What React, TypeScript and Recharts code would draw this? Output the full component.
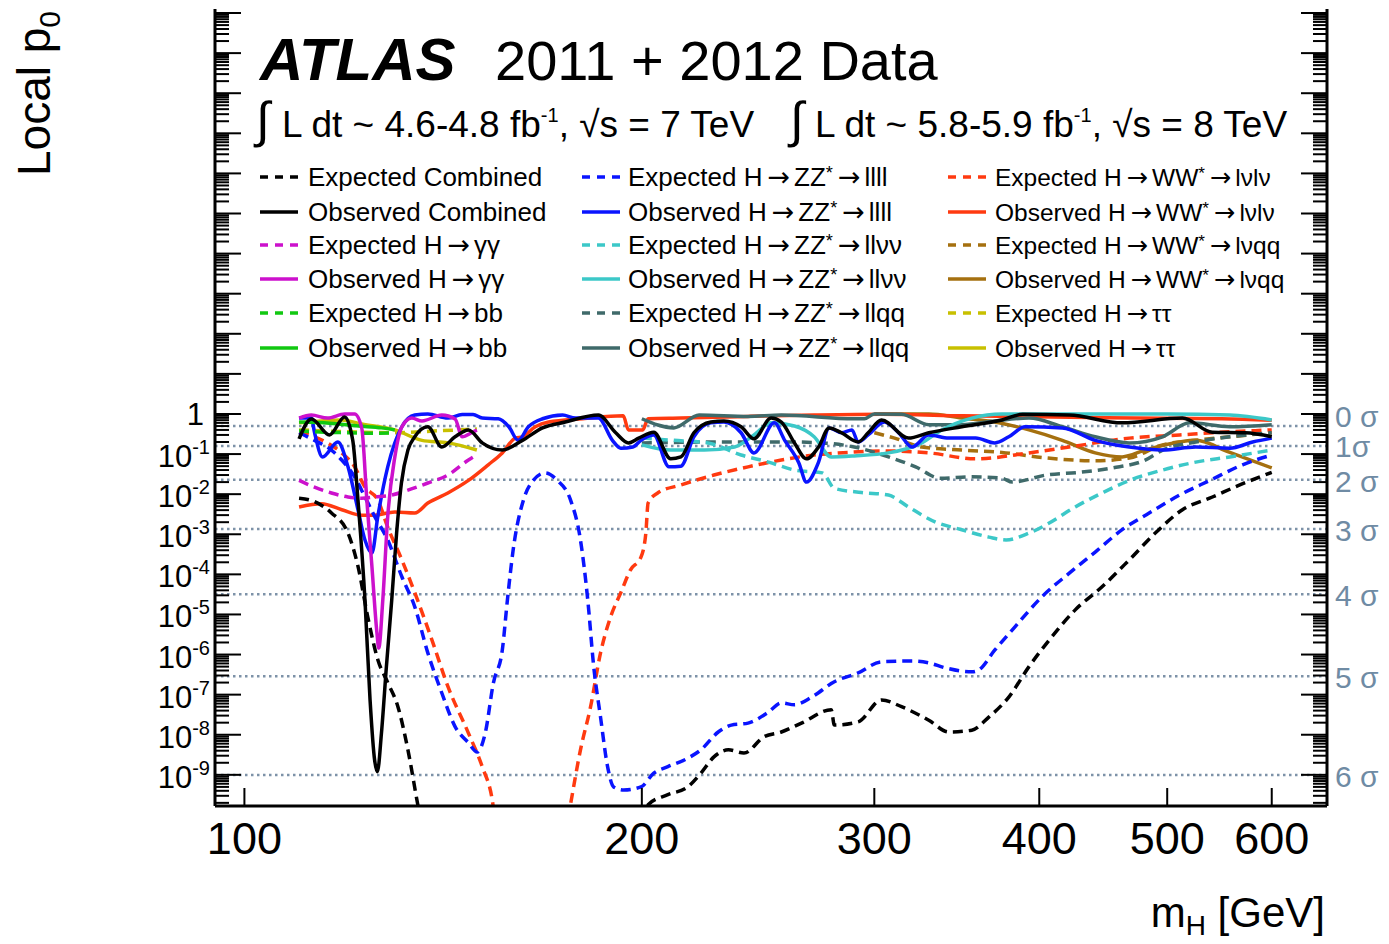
import React from "react";
import { LineChart, Line, XAxis, YAxis, ReferenceLine } from "recharts";

const FONT = '"Liberation Sans", Arial, Helvetica, sans-serif';
const ARROW_FONT = '"DejaVu Sans", sans-serif';

// local p0 vs m_H [GeV] as [mass, p0]
const expCombined = [
  [110, 7.9e-3], [113, 6.5e-3], [116.4, 3.4e-3], [119.8, 1.07e-3], [121.9, 1.6e-4],
  [124, 8.7e-6], [126.2, 7.4e-7], [128.4, 2e-7], [130.7, 5e-8], [133, 4.2e-9],
  [135.4, 1.6e-10], [140, 1e-12], [195, 1e-12], [202.2, 1.8e-10], [209.3, 3.2e-10],
  [216.7, 5e-10], [221.7, 1.1e-9], [226.8, 2.8e-9], [232.6, 4.2e-9], [239, 3.5e-9],
  [247.5, 8.9e-9], [255.1, 1.17e-8], [264.2, 1.95e-8], [278.3, 4.2e-8], [279.8, 1.74e-8],
  [291.7, 2.1e-8], [303.8, 7.4e-8], [314.6, 5e-8], [329.9, 2.3e-8], [341.6, 1.17e-8],
  [355.6, 1.3e-8], [366.3, 2.75e-8], [379.3, 8.7e-8], [392.9, 5e-7], [407, 2.3e-6],
  [425.9, 1.3e-5], [446.3, 4.9e-5], [468, 2.3e-4], [489.7, 1.07e-3], [513.5, 4.1e-3],
  [541, 8.5e-3], [567.5, 0.017], [600, 0.035],
];
const obsCombined = [
  [110, 0.24], [112.4, 0.75], [116, 0.3], [119.1, 0.84], [120.8, 0.22], [121.9, 7.2e-3],
  [123.4, 2.3e-5], [124.5, 7.4e-8], [125.5, 2.3e-9], [126.1, 1.2e-9], [127, 1.1e-8],
  [128.1, 5e-7], [129.3, 2.3e-5], [130.4, 1.07e-3], [131.5, 0.019], [133, 0.126],
  [134.6, 0.27], [137.7, 0.48], [141.1, 0.15], [144.4, 0.27], [147.8, 0.4], [151.4, 0.19],
  [156.8, 0.126], [162.4, 0.22], [168.2, 0.45], [175, 0.63], [185.4, 0.94], [191.1, 0.34],
  [195.4, 0.19], [198.9, 0.25], [204.2, 0.35], [210.3, 0.076], [214.1, 0.085], [219, 0.34],
  [225.6, 0.63], [230.8, 0.67], [237.8, 0.48], [243.2, 0.24], [250.6, 0.79], [255.1, 0.63],
  [261, 0.19], [266.5, 0.076], [272.2, 0.15], [277.3, 0.45], [283.3, 0.34], [291.7, 0.2],
  [296.8, 0.34], [303.8, 0.71], [318.4, 0.25], [329.9, 0.34], [349.4, 0.48], [374.8, 0.71],
  [388.6, 0.98], [421.5, 0.94], [462.2, 0.6], [513.5, 0.79], [541, 0.35], [573, 0.34],
  [600, 0.27],
];
const expGamma = [
  [110, 0.022], [113, 0.015], [116.4, 0.0107], [119.8, 8.5e-3], [122.7, 7.9e-3],
  [125.5, 8.5e-3], [129.3, 9.5e-3], [133, 0.0126], [137.7, 0.019], [142.6, 0.03],
  [147.8, 0.071], [150, 0.095],
];
const obsGamma = [
  [110, 0.79], [112.4, 0.94], [115.6, 0.79], [119.1, 1.0], [121.2, 1.0], [122.7, 0.45],
  [123.8, 7.2e-3], [124.9, 1.6e-4], [126, 3.5e-6], [126.4, 1.45e-6], [127.3, 2.3e-5],
  [128.4, 2.8e-3], [130, 0.085], [131.6, 0.48], [133.9, 0.79], [136.3, 0.67],
  [141.1, 0.94], [144.4, 0.75], [146.2, 0.27], [148.8, 0.35], [150, 0.4],
];
const expBB = [[110, 0.38], [115, 0.35], [120, 0.34], [125, 0.33], [130, 0.34]];
const obsBB = [[110, 0.63], [116, 0.59], [122, 0.5], [127, 0.45], [130, 0.4]];
const expZZ4l = [
  [110, 0.34], [113, 0.22], [116.4, 0.126], [118.5, 0.071], [121.2, 0.027], [123.4, 8.5e-3],
  [125.5, 2.8e-3], [128.4, 7.2e-4], [131.6, 8.7e-5], [134.6, 1.55e-5], [137.7, 1.1e-6],
  [141.1, 1.1e-7], [144.4, 1.6e-8], [147.8, 6.3e-9], [150.1, 3.7e-9], [152.2, 1.1e-8],
  [154.4, 2e-7], [156.8, 1.3e-6], [158.2, 2.3e-5], [159.8, 4.1e-4], [162.7, 7.2e-3],
  [165.5, 0.022], [169, 0.034], [172.6, 0.022], [176.6, 7.2e-3], [179.7, 7.2e-4],
  [182, 2.3e-5], [183.9, 5e-7], [186.1, 2.75e-8], [188.4, 1.6e-9], [190.4, 5e-10],
  [193.8, 4.2e-10], [199.7, 5e-10], [204.2, 1.1e-9], [209.3, 1.6e-9], [216.7, 2.6e-9],
  [221.7, 4.2e-9], [228.5, 1.17e-8], [233.8, 1.74e-8], [240.7, 1.95e-8], [249.5, 3.7e-8],
  [255.1, 6.2e-8], [261, 5.6e-8], [269, 8.7e-8], [279.8, 2.1e-7], [291.7, 3.5e-7],
  [303.8, 6.6e-7], [320.4, 6.9e-7], [329.9, 6.2e-7], [339.2, 4.7e-7], [355.6, 3.7e-7],
  [359.8, 4.1e-7], [370.2, 1.3e-6], [383.4, 4.9e-6], [402, 2.8e-5], [421.5, 1.07e-4],
  [441, 3.6e-4], [462.2, 1.3e-3], [484.5, 3.4e-3], [510.9, 9.5e-3], [538.5, 0.022],
  [570.2, 0.054], [600, 0.095],
];
const obsZZ4l = [
  [110, 0.79], [112.4, 0.79], [113, 0.35], [114.6, 0.085], [117.7, 0.2], [119.8, 0.048],
  [121.9, 4.1e-3], [123.4, 7.2e-4], [124.9, 3.4e-4], [126.2, 2.8e-3], [128.4, 0.048],
  [131.6, 0.48], [134.6, 0.94], [137.7, 1.0], [142.6, 0.79], [146.2, 0.97], [149, 0.97],
  [151.4, 0.79], [155.7, 0.76], [158.6, 0.48], [161.2, 0.22], [164.1, 0.48], [168.2, 0.76],
  [174.2, 0.94], [178.1, 0.79], [185.4, 0.79], [190, 0.22], [192.8, 0.14], [196.9, 0.15],
  [199.7, 0.22], [204.2, 0.3], [209.7, 0.048], [214.1, 0.05], [219, 0.27], [225.6, 0.6],
  [230.8, 0.63], [237.8, 0.34], [243.2, 0.107], [252, 0.6], [256.6, 0.22], [263, 0.06],
  [266.5, 0.02], [272.2, 0.063], [277.3, 0.45], [283.3, 0.34], [288.5, 0.4], [291.7, 0.2],
  [296.8, 0.3], [305.3, 0.63], [313, 0.34], [320.4, 0.15], [329.9, 0.3], [341.6, 0.25],
  [358, 0.25], [370.2, 0.19], [379.3, 0.27], [390.2, 0.48], [416.4, 0.45], [441, 0.22],
  [468, 0.15], [496, 0.126], [525.5, 0.15], [557.7, 0.14], [580.3, 0.2], [600, 0.25],
];
const expZZllvv = [
  [200, 0.25], [211.5, 0.22], [224.4, 0.19], [237.8, 0.095], [249.5, 0.063], [261, 0.04],
  [274, 0.034], [279.8, 0.014], [293.4, 0.011], [307.5, 9.5e-3], [318.4, 4.8e-3],
  [334, 2e-3], [349.4, 1.3e-3], [366.3, 8.5e-4], [377.5, 7.2e-4], [392.9, 1.07e-3],
  [407, 1.9e-3], [425.9, 4.8e-3], [446.3, 0.0107], [468, 0.022], [496, 0.04],
  [525.5, 0.063], [557.7, 0.085], [600, 0.126],
];
const obsZZllvv = [
  [200, 0.17], [210.3, 0.126], [223, 0.126], [235.1, 0.15], [243.2, 0.3], [250.6, 0.6],
  [261, 0.5], [270.1, 0.27], [278.3, 0.085], [289.7, 0.09], [307.5, 0.107], [325.9, 0.19],
  [337.5, 0.4], [355.6, 0.79], [374.8, 1.0], [450, 1.0], [500, 1.0], [557.7, 0.94],
  [600, 0.71],
];
const expZZllqq = [
  [200, 0.19], [230, 0.2], [260, 0.2], [274, 0.19], [289.7, 0.15], [307.5, 0.085],
  [322.4, 0.048], [336.6, 0.025], [355.6, 0.027], [374.8, 0.025], [381.6, 0.02],
  [404.8, 0.03], [429, 0.035], [454.2, 0.045], [481.2, 0.071], [496, 0.126],
  [525.5, 0.2], [557.7, 0.27], [600, 0.34],
];
const obsZZllqq = [
  [200, 0.76], [211.5, 0.45], [221, 0.94], [240.7, 0.87], [255.1, 0.94], [289.7, 0.76],
  [294.9, 0.76], [300, 1.0], [314.6, 0.98], [329.9, 0.54], [349.4, 0.54], [370.2, 0.67],
  [392.9, 0.79], [416.4, 0.48], [441, 0.27], [468, 0.19], [496, 0.27], [519.9, 0.6],
  [557.7, 0.48], [600, 0.54],
];
const expWWlvlv = [
  [110, 0.35], [113, 0.27], [115.6, 0.19], [118.5, 0.107], [121.2, 0.048], [123.4, 0.015],
  [126.2, 7.2e-3], [128.4, 1.5e-3], [131.6, 2.3e-4], [134.6, 3.5e-5], [138.7, 2.3e-6],
  [142.6, 1.6e-7], [147.8, 1.1e-8], [151.4, 1.6e-9], [154.1, 2.3e-10], [157, 1e-12],
  [172, 1e-12], [176.6, 1.8e-10], [179.7, 4.2e-9], [182.9, 5e-8], [186.1, 1.1e-6],
  [189.4, 8.7e-6], [192.8, 3.5e-5], [196.1, 1.3e-4], [199.7, 2.7e-4], [201.4, 1.07e-3],
  [202.2, 6e-3], [205.6, 0.0107], [214.1, 0.017], [226.8, 0.03], [240.7, 0.048],
  [255.1, 0.071], [270.1, 0.095], [286.7, 0.11], [303.8, 0.12], [329.9, 0.107],
  [358, 0.076], [392.9, 0.107], [421.5, 0.15], [468, 0.25], [510.9, 0.3], [541, 0.34],
  [600, 0.4],
];
const obsWWlvlv = [
  [110, 4.8e-3], [114.4, 5.8e-3], [118.5, 4.1e-3], [122.7, 3e-3], [125.5, 3e-3],
  [130, 3.6e-3], [134.6, 3.4e-3], [137.7, 6e-3], [142.6, 0.0107], [147.8, 0.022],
  [153, 0.054], [156.8, 0.107], [160.4, 0.25], [162.4, 0.27], [166.1, 0.48], [170, 0.63],
  [180.4, 0.76], [193.6, 0.9], [195.4, 0.4], [200.3, 0.4], [202.2, 0.76], [214.1, 0.79],
  [240.7, 0.87], [270.1, 0.94], [303.8, 0.98], [350, 0.9], [450, 0.8], [550, 0.76],
  [600, 0.7],
];
const expWWlvqq = [
  [300, 0.34], [310.8, 0.25], [325.9, 0.15], [349.4, 0.126], [374.8, 0.11], [404.8, 0.08],
  [441, 0.068], [468, 0.08], [496, 0.17], [525.5, 0.22], [557.7, 0.27], [600, 0.34],
];
const obsWWlvqq = [
  [300, 1.0], [329.9, 1.0], [349.4, 0.79], [370.2, 0.63], [392.9, 0.4], [416.4, 0.22],
  [441, 0.107], [462.2, 0.085], [481.2, 0.126], [510.9, 0.2], [525.5, 0.22],
  [557.7, 0.11], [600, 0.045],
];
const expTauTau = [[110, 0.4], [120, 0.36], [130, 0.34], [140, 0.38], [145, 0.4], [150, 0.42]];
const obsTauTau = [
  [110, 0.6], [118.5, 0.71], [122.7, 0.56], [130, 0.4], [136.3, 0.22], [142.6, 0.19],
  [150, 0.126],
];

const massTicks = [100, 200, 300, 400, 500, 600];
const labeledExponents = [0, -1, -2, -3, -4, -5, -6, -7, -8, -9];
const sigmaP = [0.5, 0.1587, 0.02275, 1.35e-3, 3.17e-5, 2.87e-7, 9.87e-10];
const sigmaLabels = ["0 σ", "1σ", "2 σ", "3 σ", "4 σ", "5 σ", "6 σ"];
const sigmaShift = [-10, 0, 1, 1, 1, 1, 1];

const series = [
  { name: "Expected Combined", data: expCombined, color: "#000000", dashed: true },
  { name: "Observed Combined", data: obsCombined, color: "#000000", dashed: false },
  { name: "Expected H → γγ", data: expGamma, color: "#cc11cc", dashed: true },
  { name: "Observed H → γγ", data: obsGamma, color: "#cc11cc", dashed: false },
  { name: "Expected H → bb", data: expBB, color: "#11c811", dashed: true },
  { name: "Observed H → bb", data: obsBB, color: "#11c811", dashed: false },
  { name: "Expected H → ZZ* → llll", data: expZZ4l, color: "#0a14ff", dashed: true },
  { name: "Observed H → ZZ* → llll", data: obsZZ4l, color: "#0a14ff", dashed: false },
  { name: "Expected H → ZZ* → llνν", data: expZZllvv, color: "#3cc8c8", dashed: true },
  { name: "Observed H → ZZ* → llνν", data: obsZZllvv, color: "#3cc8c8", dashed: false },
  { name: "Expected H → ZZ* → llqq", data: expZZllqq, color: "#3f6a6a", dashed: true },
  { name: "Observed H → ZZ* → llqq", data: obsZZllqq, color: "#3f6a6a", dashed: false },
  { name: "Expected H → WW* → lνlν", data: expWWlvlv, color: "#ff3a10", dashed: true },
  { name: "Observed H → WW* → lνlν", data: obsWWlvlv, color: "#ff3a10", dashed: false },
  { name: "Expected H → WW* → lνqq", data: expWWlvqq, color: "#a5700f", dashed: true },
  { name: "Observed H → WW* → lνqq", data: obsWWlvqq, color: "#a5700f", dashed: false },
  { name: "Expected H → ττ", data: expTauTau, color: "#c8c000", dashed: true },
  { name: "Observed H → ττ", data: obsTauTau, color: "#c8c000", dashed: false },
];

const X_DOMAIN = [95, 660.7];
const Y_DOMAIN = [1.67e-10, 1.26e10];

// log ticks: decades plus 2..9 minors
const pTicks: number[] = [];
for (let e = -10; e <= 10; e++) {
  for (let k = 1; k <= 9; k++) {
    const v = k * Math.pow(10, e);
    if (v >= Y_DOMAIN[0] && v <= Y_DOMAIN[1]) pTicks.push(v);
  }
}

const toPoints = (pairs: number[][]) => pairs.map(([m, p]) => ({ m, p }));

const isDecade = (v: number) => {
  const e = Math.log10(v);
  return Math.abs(e - Math.round(e)) < 1e-6;
};

function LeftTick(props: any) {
  const { x, y, payload } = props;
  const major = isDecade(payload.value);
  const exp = Math.round(Math.log10(payload.value));
  let label = null;
  if (major && labeledExponents.includes(exp)) {
    label =
      exp === 0 ? (
        <text x={x - 11} y={y + 11} textAnchor="end" fontSize={31} fontFamily={FONT}>1</text>
      ) : (
        <text x={x - 5} y={y + 13} textAnchor="end" fontSize={31} fontFamily={FONT}>
          10<tspan dy={-13} fontSize={20}>{exp}</tspan>
        </text>
      );
  }
  return (
    <g>
      <line x1={x} x2={x + (major ? 26 : 14)} y1={y} y2={y} stroke="#000" strokeWidth={2} />
      {label}
    </g>
  );
}

function RightTick(props: any) {
  const { x, y, payload } = props;
  const major = isDecade(payload.value);
  return <line x1={x} x2={x - (major ? 26 : 14)} y1={y} y2={y} stroke="#000" strokeWidth={2} />;
}

function BottomTick(props: any) {
  const { x, y, payload } = props;
  return (
    <g>
      <line x1={x} x2={x} y1={y} y2={y - 18} stroke="#000" strokeWidth={2} />
      <text x={x} y={y + 48} textAnchor="middle" fontSize={45} fontFamily={FONT}>
        {payload.value}
      </text>
    </g>
  );
}

function TopTick(props: any) {
  const { x, y } = props;
  return <line x1={x} x2={x} y1={y} y2={y + 16} stroke="#000" strokeWidth={2} />;
}

function SigmaLabel(props: any) {
  const { viewBox, text, shift } = props;
  return (
    <text
      x={viewBox.x + viewBox.width + 8}
      y={viewBox.y + 11 + shift}
      fontSize={30}
      fill="#6f8ba4"
      fontFamily={FONT}
    >
      {text}
    </text>
  );
}

// legend text: arrows drawn from DejaVu, "*" raised
function legendSpans(name: string, size: number) {
  const parts = name.split(" → ");
  const out: any[] = [];
  let raised = false;
  parts.forEach((part, i) => {
    if (i > 0) {
      out.push(
        <tspan key={`a${i}`} fontFamily={ARROW_FONT} fontSize={size + 1} dx={5} dy={raised ? 7 : 0}>
          →
        </tspan>
      );
      raised = false;
    }
    const star = part.endsWith("*");
    const body = star ? part.slice(0, -1) : part;
    out.push(<tspan key={`t${i}`} dx={i > 0 ? 4 : 0}>{body}</tspan>);
    if (star) {
      out.push(<tspan key={`s${i}`} fontSize={size * 0.7} dy={-7}>*</tspan>);
      raised = true;
    }
  });
  return out;
}

const legendLineX = [260, 582, 948];
const legendTextX = [308, 628, 995];
const legendFont = [26, 26, 24.5];
const legendRowY = [177, 212, 245, 279, 313, 348];

export default function App() {
  return (
    <div style={{ position: "absolute", left: 0, top: 0, width: 1389, height: 944, background: "#fff" }}>
      <LineChart width={1389} height={944} margin={{ top: 9, right: 0, bottom: 0, left: 0 }}>
        <XAxis
          xAxisId="bottom"
          dataKey="m"
          type="number"
          scale="log"
          domain={X_DOMAIN}
          allowDataOverflow
          ticks={massTicks}
          interval={0}
          height={138}
          tickSize={0}
          tickMargin={0}
          tick={<BottomTick />}
          axisLine={{ stroke: "#000", strokeWidth: 3 }}
        />
        <XAxis
          xAxisId="top"
          orientation="top"
          dataKey="m"
          type="number"
          scale="log"
          domain={X_DOMAIN}
          allowDataOverflow
          ticks={massTicks}
          interval={0}
          height={0}
          tickSize={0}
          tickMargin={0}
          tick={<TopTick />}
          axisLine={{ stroke: "#000", strokeWidth: 3 }}
        />
        <YAxis
          yAxisId="left"
          type="number"
          scale="log"
          domain={Y_DOMAIN}
          allowDataOverflow
          ticks={pTicks}
          interval={0}
          width={215}
          tickSize={0}
          tickMargin={0}
          tick={<LeftTick />}
          axisLine={{ stroke: "#000", strokeWidth: 3 }}
        />
        <YAxis
          yAxisId="right"
          orientation="right"
          type="number"
          scale="log"
          domain={Y_DOMAIN}
          allowDataOverflow
          ticks={pTicks}
          interval={0}
          width={62}
          tickSize={0}
          tickMargin={0}
          tick={<RightTick />}
          axisLine={{ stroke: "#000", strokeWidth: 3 }}
        />
        {sigmaP.map((p, i) => (
          <ReferenceLine
            key={sigmaLabels[i]}
            xAxisId="bottom"
            yAxisId="left"
            y={p}
            stroke="#7d92a8"
            strokeWidth={2.5}
            strokeDasharray="2.5 3.5"
            label={<SigmaLabel text={sigmaLabels[i]} shift={sigmaShift[i]} />}
          />
        ))}
        {[...series].reverse().map((s) => (
          <Line
            key={s.name}
            xAxisId="bottom"
            yAxisId="left"
            data={toPoints(s.data)}
            dataKey="p"
            name={s.name}
            type="monotone"
            stroke={s.color}
            strokeWidth={3.5}
            strokeDasharray={s.dashed ? "10 6" : undefined}
            dot={false}
            activeDot={false}
            isAnimationActive={false}
          />
        ))}
      </LineChart>
      <svg
        width={1389}
        height={944}
        style={{ position: "absolute", left: 0, top: 0, pointerEvents: "none" }}
        fontFamily={FONT}
      >
        <text x={260} y={80} fontSize={60} fontWeight="bold" fontStyle="italic">ATLAS</text>
        <text x={495} y={80} fontSize={56}>2011 + 2012 Data</text>
        <text x={256} y={137} fontSize={50}>∫</text>
        <text x={282} y={137} fontSize={37}>
          L dt ~ 4.6-4.8 fb<tspan dy={-15} fontSize={20}>-1</tspan>
          <tspan dy={15}>, √s = 7 TeV</tspan>
        </text>
        <text x={790} y={137} fontSize={50}>∫</text>
        <text x={815} y={137} fontSize={37}>
          L dt ~ 5.8-5.9 fb<tspan dy={-15} fontSize={20}>-1</tspan>
          <tspan dy={15}>, √s = 8 TeV</tspan>
        </text>
        {series.map((s, i) => {
          const col = Math.floor(i / 6);
          const y = legendRowY[i % 6];
          return (
            <g key={s.name}>
              <line
                x1={legendLineX[col]}
                x2={legendLineX[col] + 38}
                y1={y}
                y2={y}
                stroke={s.color}
                strokeWidth={3.5}
                strokeDasharray={s.dashed ? "8 7" : undefined}
              />
              <text x={legendTextX[col]} y={y + 9} fontSize={legendFont[col]}>
                {legendSpans(s.name, legendFont[col])}
              </text>
            </g>
          );
        })}
        <text transform="translate(50,176) rotate(-90)" fontSize={46}>
          Local p<tspan dy={10} fontSize={30}>0</tspan>
        </text>
        <text x={1325} y={927} textAnchor="end" fontSize={42}>
          m<tspan dy={8} fontSize={28}>H</tspan>
          <tspan dy={-8}> [GeV]</tspan>
        </text>
      </svg>
    </div>
  );
}
